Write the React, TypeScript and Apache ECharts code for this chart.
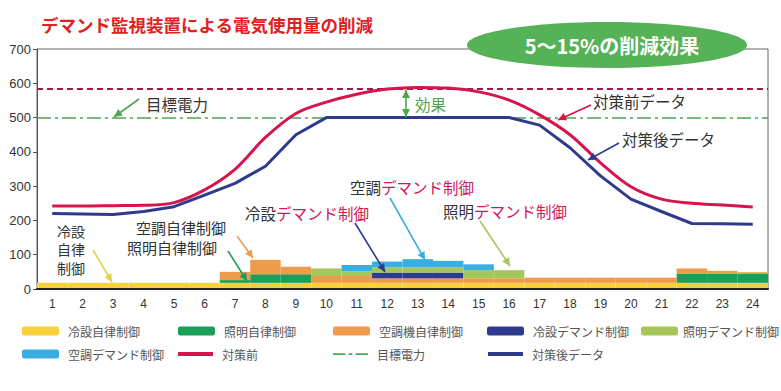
import React, { useEffect, useRef } from "react";
import * as echarts from "echarts";

const hours = ["1","2","3","4","5","6","7","8","9","10","11","12","13","14","15","16","17","18","19","20","21","22","23","24"];
const reisetsuJiritsu = [18,18,18,18,18,18,18,18,18,18,18,18,18,18,18,18,18,18,18,18,18,18,18,18];
const shoumeiJiritsu = [0,0,0,0,0,0,8,25,25,0,0,0,0,0,0,0,0,0,0,0,0,26,26,26];
const kuuchouJiritsu = [0,0,0,0,0,0,24,42,22,20,20,13,13,13,13,13,15,15,15,15,15,16,9,5];
const reisetsuDemand = [0,0,0,0,0,0,0,0,0,0,0,17,17,17,0,0,0,0,0,0,0,0,0,0];
const shoumeiDemand = [0,0,0,0,0,0,0,0,0,22,14,15,15,15,24,24,0,0,0,0,0,0,0,0];
const kuuchouDemand = [0,0,0,0,0,0,0,0,0,0,18,17,24,19,17,0,0,0,0,0,0,0,0,0];
const before = [242,242,243,244,252,289,349,442,512,545,568,583,588,586,575,551,508,450,368,298,262,250,245,239];
const after = [220,219,217,226,240,274,308,358,450,500,500,500,500,500,500,500,478,412,330,262,226,191,190,189];
const targetValue = 500;
const contractValue = 585;
const yTicks = [0, 100, 200, 300, 400, 500, 600, 700];

const JP = "'Noto Sans CJK JP', sans-serif";
const NUM = "'Liberation Sans', Arial, sans-serif";

const C = {
  yellow: "#F7D03A",
  green: "#1C9E5A",
  orange: "#EE9B4C",
  navy: "#2E3B8D",
  lgreen: "#A6C65B",
  lblue: "#3AAEE2",
  red: "#D6154C",
  target: "#4DA54E",
  maroon: "#9A1C4A",
};

function arrow(x1: number, y1: number, x2: number, y2: number, color: string, both = false) {
  const els: any[] = [
    { type: "line", shape: { x1, y1, x2, y2 }, style: { stroke: color, lineWidth: 1.6 }, z: 20 },
  ];
  const head = (ax: number, ay: number, bx: number, by: number) => {
    const ang = Math.atan2(by - ay, bx - ax);
    const L = 8, W = 4;
    const px = bx - L * Math.cos(ang), py = by - L * Math.sin(ang);
    return {
      type: "polygon",
      shape: {
        points: [
          [bx, by],
          [px + W * Math.sin(ang), py - W * Math.cos(ang)],
          [px - W * Math.sin(ang), py + W * Math.cos(ang)],
        ],
      },
      style: { fill: color },
      z: 20,
    };
  };
  els.push(head(x1, y1, x2, y2));
  if (both) els.push(head(x2, y2, x1, y1));
  return els;
}

function label(x: number, y: number, text: string, color = "#333", size = 15.5) {
  return {
    type: "text",
    x,
    y,
    z: 20,
    style: { text, fill: color, font: `${size}px ${JP}`, textVerticalAlign: "middle" },
  };
}

function richLabel(x: number, y: number, a: string, b: string) {
  return {
    type: "text",
    x,
    y,
    z: 20,
    style: {
      text: `{a|${a}}{b|${b}}`,
      textVerticalAlign: "middle",
      rich: {
        a: { fill: "#333", fontSize: 15.5, fontFamily: JP },
        b: { fill: "#D0175A", fontSize: 15.5, fontFamily: JP },
      },
    },
  } as any;
}

export default function App() {
  const ref = useRef<HTMLDivElement>(null);
  useEffect(() => {
    if (!ref.current) return;
    const chart = echarts.init(ref.current, null, { renderer: "svg" });
    const barBase = {
      type: "bar",
      stack: "s",
      barWidth: "100%",
      barCategoryGap: "0%",
      emphasis: { disabled: true },
    };
    const legendItem = (name: string, left: number, top: number, icon?: string, h = 9, pad = 4) => ({
      data: [icon ? { name, icon } : name],
      left,
      top,
      itemWidth: icon ? 35 : 37,
      itemHeight: h,
      selectedMode: false,
      textStyle: { color: "#555", fontSize: 12, fontFamily: JP, padding: [0, 0, 0, pad] },
    });
    const dashDot = "path://M0,0h14v2h-14z M18,0h4v2h-4z M26,0h14v2h-14z";
    const option: any = {
      animation: false,
      backgroundColor: "#fff",
      title: {
        text: "デマンド監視装置による電気使用量の削減",
        left: 36,
        top: 11,
        textStyle: { color: "#E2201E", fontSize: 17.5, fontWeight: "bold", fontFamily: JP },
      },
      grid: {
        left: 37,
        right: 13,
        top: 49,
        bottom: 102,
        show: true,
        borderColor: "#666",
        borderWidth: 1,
        containLabel: false,
      },
      legend: [
        legendItem("冷設自律制御", 17, 320),
        legendItem("照明自律制御", 173, 320),
        legendItem("空調機自律制御", 328, 320),
        legendItem("冷設デマンド制御", 482, 320),
        legendItem("照明デマンド制御", 636, 320, undefined, 9, 0),
        legendItem("空調デマンド制御", 17, 343),
        legendItem("対策前", 173, 343, "rect", 4),
        legendItem("目標電力", 328, 343, dashDot, 2),
        legendItem("対策後データ", 483, 343, "rect", 4),
      ],
      xAxis: {
        type: "category",
        data: hours,
        boundaryGap: true,
        axisLine: { lineStyle: { color: "#222", width: 2 } },
        axisTick: { show: false },
        axisLabel: { color: "#333", fontSize: 12, fontFamily: NUM, margin: 9 },
        z: 10,
      },
      yAxis: {
        type: "value",
        min: 0,
        max: 700,
        interval: 100,
        axisLine: { show: true, lineStyle: { color: "#555" } },
        axisTick: { show: true, inside: false, length: 4, lineStyle: { color: "#555" } },
        splitLine: { show: false },
        axisLabel: {
          color: "#333",
          fontSize: 13,
          fontFamily: NUM,
          margin: 6,
          formatter: (v: number) => (yTicks.includes(v) ? String(v) : ""),
        },
      },
      series: [
        { ...barBase, name: "冷設自律制御", data: reisetsuJiritsu, itemStyle: { color: C.yellow } },
        { ...barBase, name: "照明自律制御", data: shoumeiJiritsu, itemStyle: { color: C.green } },
        { ...barBase, name: "空調機自律制御", data: kuuchouJiritsu, itemStyle: { color: C.orange } },
        { ...barBase, name: "冷設デマンド制御", data: reisetsuDemand, itemStyle: { color: C.navy } },
        { ...barBase, name: "照明デマンド制御", data: shoumeiDemand, itemStyle: { color: C.lgreen } },
        { ...barBase, name: "空調デマンド制御", data: kuuchouDemand, itemStyle: { color: C.lblue } },
        {
          name: "対策前",
          type: "line",
          data: before,
          smooth: 0.35,
          symbol: "none",
          lineStyle: { color: C.red, width: 3 },
          itemStyle: { color: C.red },
          z: 5,
          markLine: {
            silent: true,
            symbol: "none",
            label: { show: false },
            lineStyle: { color: C.maroon, type: [6, 4], width: 1.8 },
            data: [{ yAxis: contractValue }],
          },
        },
        {
          name: "目標電力",
          type: "line",
          data: [],
          symbol: "none",
          lineStyle: { color: C.target, type: [14, 4, 3, 4], width: 1.6 },
          itemStyle: { color: C.target },
          markLine: {
            silent: true,
            symbol: "none",
            label: { show: false },
            lineStyle: { color: C.target, type: [14, 4, 3, 4], width: 1.6 },
            data: [{ yAxis: targetValue }],
          },
        },
        {
          name: "対策後データ",
          type: "line",
          data: after,
          symbol: "none",
          lineStyle: { color: C.navy, width: 3 },
          itemStyle: { color: C.navy },
          z: 6,
        },
      ],
      graphic: [
        {
          type: "ellipse",
          shape: { cx: 607, cy: 45, rx: 140, ry: 23 },
          style: { fill: "#55B257" },
          z: 30,
        },
        {
          type: "text",
          x: 612,
          y: 45,
          z: 31,
          style: {
            text: "5〜15%の削減効果",
            fill: "#fff",
            font: `bold 20px ${JP}`,
            textAlign: "center",
            textVerticalAlign: "middle",
          },
        },
        label(146, 104, "目標電力"),
        ...arrow(139, 99, 114, 117, C.target),
        ...arrow(406, 90, 406, 117, C.target, true),
        label(415, 104, "効果", C.target, 15.5),
        label(593, 101, "対策前データ"),
        ...arrow(591, 105, 558, 120, C.red),
        label(622, 139, "対策後データ"),
        ...arrow(619, 143, 588, 160, C.navy),
        label(57, 230.5, "冷設", "#333", 14),
        label(57, 249, "自律", "#333", 14),
        label(57, 267.5, "制御", "#333", 14),
        ...arrow(93, 250, 112, 282, "#E8CE45"),
        label(136, 227, "空調自律制御", "#333", 15),
        ...arrow(237, 236, 253, 258, C.orange),
        label(127, 247, "照明自律制御", "#333", 15),
        ...arrow(228, 251, 247, 281, C.green),
        richLabel(245, 213, "冷設", "デマンド制御"),
        ...arrow(355, 223, 385, 272, C.navy),
        richLabel(350, 187, "空調", "デマンド制御"),
        ...arrow(390, 198, 425, 260, C.lblue),
        richLabel(443, 211, "照明", "デマンド制御"),
        ...arrow(480, 221, 510, 266, C.lgreen),
      ],
    };
    chart.setOption(option);
    return () => chart.dispose();
  }, []);
  return <div ref={ref} style={{ width: 781, height: 391, position: "absolute", left: 0, top: 0 }} />;
}
